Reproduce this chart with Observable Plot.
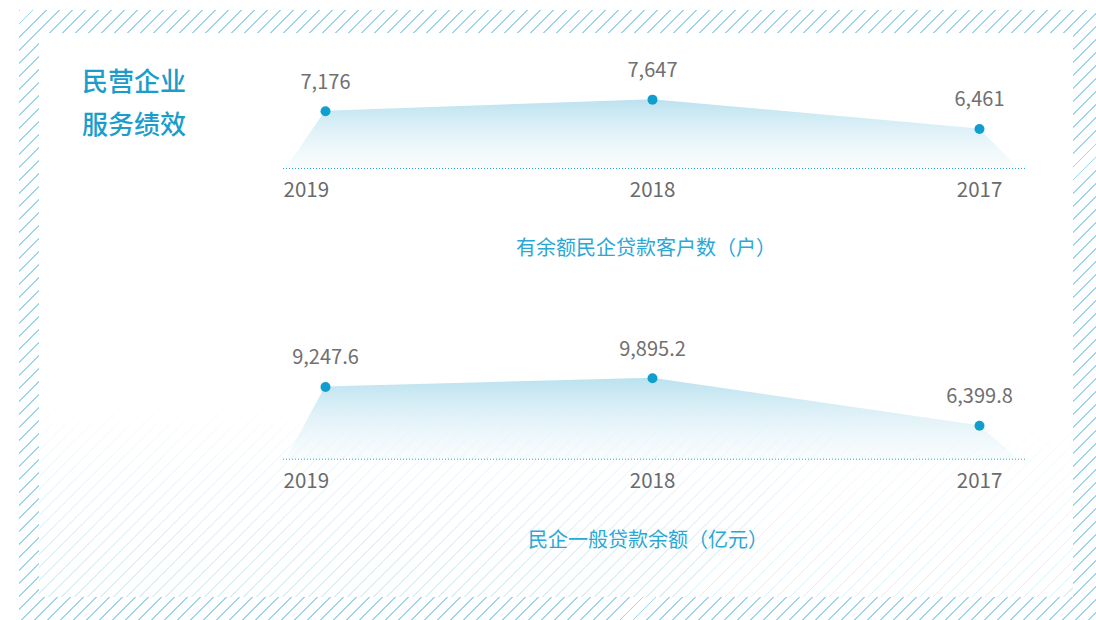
<!DOCTYPE html>
<html>
<head>
<meta charset="utf-8">
<script src="https://cdn.jsdelivr.net/npm/d3@7"></script>
<script src="https://cdn.jsdelivr.net/npm/@observablehq/plot@0.6"></script>
<style>
  body { margin: 0; background: #fff; }
  #page { position: relative; width: 1096px; height: 620px; overflow: hidden; background: #fff;
          font-family: "Noto Sans CJK SC", "Noto Sans", sans-serif; }
  #frame { position: absolute; left: 19px; top: 10px; width: 1077px; height: 610px;
           background: repeating-linear-gradient(135deg, #9dd5ea 0 1.4px, transparent 1.4px 9.2px); }
  #inner { position: absolute; left: 39px; top: 33px; width: 1034px; height: 564px; background: #fff; overflow: hidden; }
  #fade { position: absolute; left: 0; top: 0; width: 100%; height: 100%;
          background: repeating-linear-gradient(135deg, #daeff6 0 1.2px, transparent 1.2px 9.2px);
          -webkit-mask-image: linear-gradient(to bottom, transparent 0, transparent 365px, #000 564px);
          mask-image: linear-gradient(to bottom, transparent 0, transparent 365px, #000 564px); }
  .title { position: absolute; left: 82px; top: 58px; font-size: 26px; line-height: 43px; color: #1b9dcc; font-weight: 500; }
  .cap { position: absolute; width: 400px; text-align: center; font-size: 20px; line-height: 20px; color: #2aa8d5; }
  .chart { position: absolute; left: 0; }
</style>
</head>
<body>
<div id="page">
  <div id="frame"></div>
  <div id="inner"><div id="fade"></div></div>
  <div class="title" id="title"></div>
  <div class="chart" id="c1" style="top:0px"></div>
  <div class="cap" id="cap1" style="left:446px;top:237px"></div>
  <div class="chart" id="c2" style="top:290px"></div>
  <div class="cap" id="cap2" style="left:448px;top:529px"></div>
</div>
<script>
// ---- data ----
const years = [2019, 2018, 2017];
const yearLabels = ["2019", "2018", "2017"];
const customers = [7176, 7647, 6461];
const customerLabels = ["7,176", "7,647", "6,461"];
const loans = [9247.6, 9895.2, 6399.8];
const loanLabels = ["9,247.6", "9,895.2", "6,399.8"];
const titleLines = ["民营企业", "服务绩效"];
const captions = ["有余额民企贷款客户数（户）", "民企一般贷款余额（亿元）"];

document.getElementById("title").innerHTML = titleLines.join("<br>");
document.getElementById("cap1").textContent = captions[0];
document.getElementById("cap2").textContent = captions[1];

function chart(values, labels, yDomain, baseline, gradId) {
  const data = years.map((yr, i) => ({year: yr, value: values[i], label: labels[i], yl: yearLabels[i]}));
  const y0 = yDomain[0];
  const pad = 0.12;
  const areaData = [{year: years[0] + pad, value: y0}, ...data, {year: years[years.length - 1] - pad, value: y0}];
  const defs = () => {
    const s = d3.create("svg:defs");
    const g = s.append("linearGradient").attr("id", gradId)
      .attr("x1", 0).attr("y1", 0).attr("x2", 0).attr("y2", 1);
    g.append("stop").attr("offset", "0%").attr("stop-color", "#b7e0ee").attr("stop-opacity", 0.95);
    g.append("stop").attr("offset", "100%").attr("stop-color", "#eaf6fa").attr("stop-opacity", 0.3);
    return s.node();
  };
  return Plot.plot({
    width: 1096, height: 230,
    marginLeft: 283, marginRight: 71, marginTop: 0, marginBottom: 0,
    x: {domain: [2019, 2017], range: [325, 979], axis: null},
    y: {domain: yDomain, range: [baseline, baseline - 100], axis: null},
    style: {background: "transparent", fontFamily: "'Noto Sans CJK SC', 'Noto Sans', sans-serif"},
    marks: [
      defs,
      Plot.areaY(areaData, {x: "year", y1: () => y0, y2: "value", fill: `url(#${gradId})`}),
      Plot.ruleY([y0], {stroke: "#1fa3d4", strokeDasharray: "1,2", strokeWidth: 1}),
      Plot.dot(data, {x: "year", y: "value", r: 5, fill: "#109fcd"}),
      Plot.text(data, {x: "year", y: "value", text: "label", dy: -29, fontSize: 20, fill: "#707070"}),
      Plot.text(data.slice(0, 1), {y: () => y0, text: "yl", frameAnchor: "left", textAnchor: "start", dy: 22, fontSize: 20.5, fill: "#6a6a6a"}),
      Plot.text(data.slice(1), {x: "year", y: () => y0, text: "yl", dy: 22, fontSize: 20.5, fill: "#6a6a6a"})
    ]
  });
}

document.getElementById("c1").append(chart(customers, customerLabels, [4861, 8908], 168, "g1"));
document.getElementById("c2").append(chart(loans, loanLabels, [3946, 11294], 168.7, "g2"));
</script>
</body>
</html>
